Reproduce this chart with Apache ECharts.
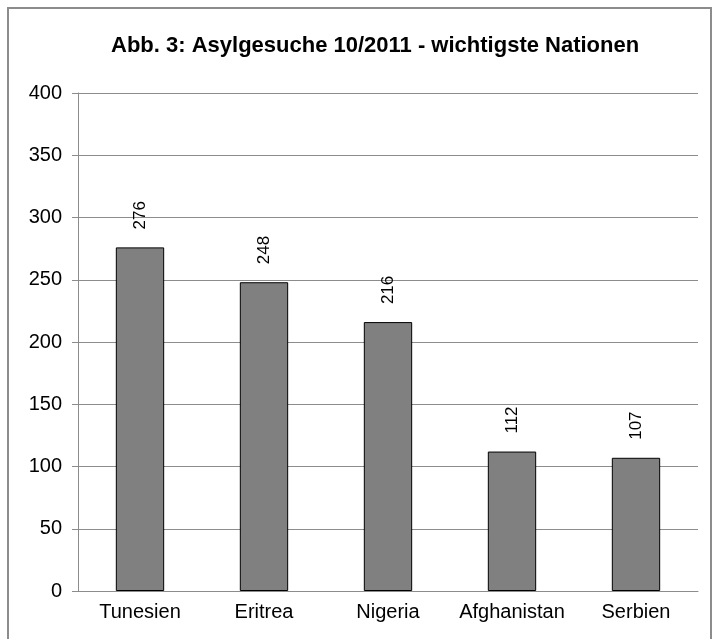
<!DOCTYPE html>
<html>
<head>
<meta charset="utf-8">
<script src="https://cdn.jsdelivr.net/npm/echarts@6/dist/echarts.min.js"></script>
<style>
  html, body { margin: 0; padding: 0; background: #fff; }
  #chart { width: 716px; height: 639px; }
</style>
</head>
<body>
<div id="chart"></div>
<script>
const titleText = 'Abb. 3: Asylgesuche 10/2011 - wichtigste Nationen'
const nations = ['Tunesien', 'Eritrea', 'Nigeria', 'Afghanistan', 'Serbien']
const requests = [276, 248, 216, 112, 107]
const yMin = 0
const yMax = 400
const yStep = 50

const myChart = echarts.init(document.getElementById('chart'))
myChart.setOption({
  animation: false,
  textStyle: { fontFamily: 'Liberation Sans, Arial, sans-serif' },
  title: {
    text: titleText,
    left: 106,
    top: 30,
    textStyle: {
      fontSize: 22,
      fontWeight: 'bold',
      color: '#000'
    }
  },
  graphic: [
    {
      type: 'rect',
      shape: { x: 8, y: 8, width: 703, height: 700 },
      style: { fill: 'none', stroke: '#8c8c8c', lineWidth: 2 }
    }
  ],
  grid: { left: 78, right: 18, top: 93, bottom: 48 },
  xAxis: {
    type: 'category',
    data: nations,
    axisLine: { lineStyle: { color: '#8c8c8c' } },
    axisTick: { show: false },
    axisLabel: { color: '#000', fontSize: 20, margin: 11, interval: 0, hideOverlap: false }
  },
  yAxis: {
    type: 'value',
    min: yMin,
    max: yMax,
    interval: yStep,
    axisLine: { show: true, lineStyle: { color: '#8c8c8c' } },
    axisTick: { show: true, length: 6, inside: false, lineStyle: { color: '#8c8c8c' } },
    axisLabel: { color: '#000', fontSize: 20, margin: 16 },
    splitLine: { lineStyle: { color: '#8c8c8c' } }
  },
  series: [
    {
      type: 'bar',
      data: requests,
      barWidth: '39%',
      itemStyle: { color: '#808080', borderColor: '#000', borderWidth: 1 },
      label: {
        show: true,
        position: 'top',
        rotate: 90,
        align: 'left',
        verticalAlign: 'middle',
        distance: 18,
        color: '#000',
        fontSize: 17
      }
    }
  ]
})
</script>
</body>
</html>
